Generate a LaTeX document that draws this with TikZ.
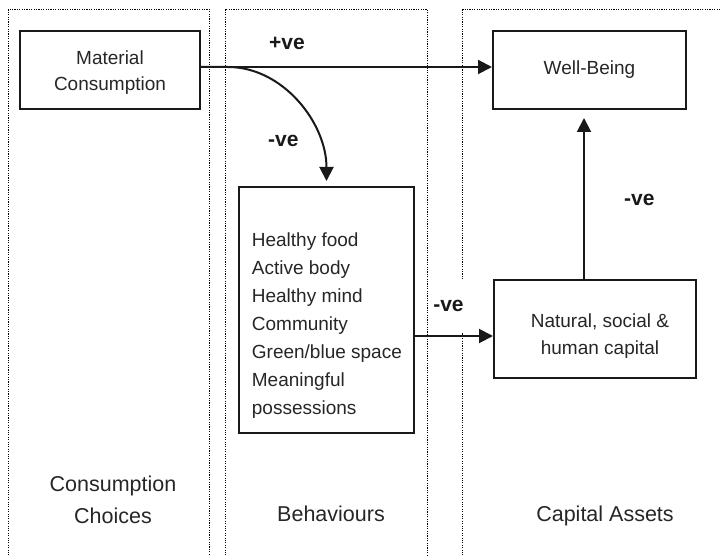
\documentclass[tikz,border=0pt]{standalone}
\usepackage{fontspec}
\setmainfont{Liberation Sans}
\usetikzlibrary{arrows.meta}
\def\fsz#1#2{\fontsize{#1}{#2}\selectfont}

\begin{document}
\begin{tikzpicture}[x=1pt, y=-1pt,
		box/.style={draw=black!90, line width=2pt, inner sep=0pt},
		col/.style={draw=black, line width=1.5pt, dash pattern=on 1.1pt off 1.3pt},
		arr/.style={draw=black!90, line width=2pt, -{Triangle[length=14pt,width=14pt]}},
		sign/.style={font=\bfseries\fsz{21}{25}, text=black!90, inner sep=0pt, anchor=base west},
		txt/.style={font=\fsz{19}{26}, text=black!85, inner sep=0pt, align=center},
		head/.style={font=\fsz{21.5}{31.6}, text=black!85, inner sep=0pt, align=center, anchor=base}]
		%%%%% START %%%%%
		\useasboundingbox (0,0) rectangle (720,556);
		\clip (0,0) rectangle (720,556);
		
		% the three columns
		\draw[col] (8.5,9.5) rectangle (209.5,580);
		\draw[col] (225.5,9.5) rectangle (427.5,580);
		\draw[col] (462.5,9.5) rectangle (760,580);
		
		\node[box, minimum width=180pt, minimum height=78pt] (mat) at (110,70) {};
		\node[txt] (mattxt) at (110,72.5) {Material\\Consumption};
		\node[box, txt, minimum width=193pt, minimum height=78pt] (wb) at (589.5,70) {Well-Being};
		
		\node[box, minimum width=175pt, minimum height=246pt] (beh) at (326.5,310) {};
		\node[txt, align=left, font=\fsz{19}{28}, anchor=north west] (behtxt) at (251.7,232.9) {Healthy food\\Active body\\Healthy mind\\Community\\Green/blue space\\Meaningful\\possessions};
		
		\node[box, minimum width=202pt, minimum height=98pt] (nat) at (595,329) {};
		\node[txt, font=\fsz{19}{27}] (nattxt) at (600,335.6) {Natural, social \&\\human capital};
		
		\coordinate (top) at (0,67);
		\coordinate (lvl) at (0,336);
		\coordinate (riser) at (584,0);
		
		\draw[arr] (mat.east |- top) -- (wb.west |- top);
		\draw[arr, shorten >=5pt] (mat.east |- top) -- ++(27,0) .. controls +(55,0) and +(0,-63) .. (beh.north);
		\draw[arr] (beh.east |- lvl) -- (nat.west |- lvl);
		\draw[arr, shorten >=8pt] (nat.north -| riser) -- (wb.south -| riser);
		
		\node[sign] (pos) at (269,49.3) {+ve};
		\node[sign] (negbeh) at (268,146.7) {-ve};
		\node[sign, fill=white, anchor=center, minimum width=38pt, minimum height=51pt] (negcap) at (448.5,306) {-ve};
		\node[sign] (negwb) at (624,206) {-ve};
		
		\node[head] (cc) at (113,523.3) {Consumption\\Choices};
		\node[head] (bh) at (331,521.7) {Behaviours};
		\node[head] (ca) at (605,521.7) {Capital Assets};
		
		%%%%% END %%%%%
	\end{tikzpicture}
\end{document}
